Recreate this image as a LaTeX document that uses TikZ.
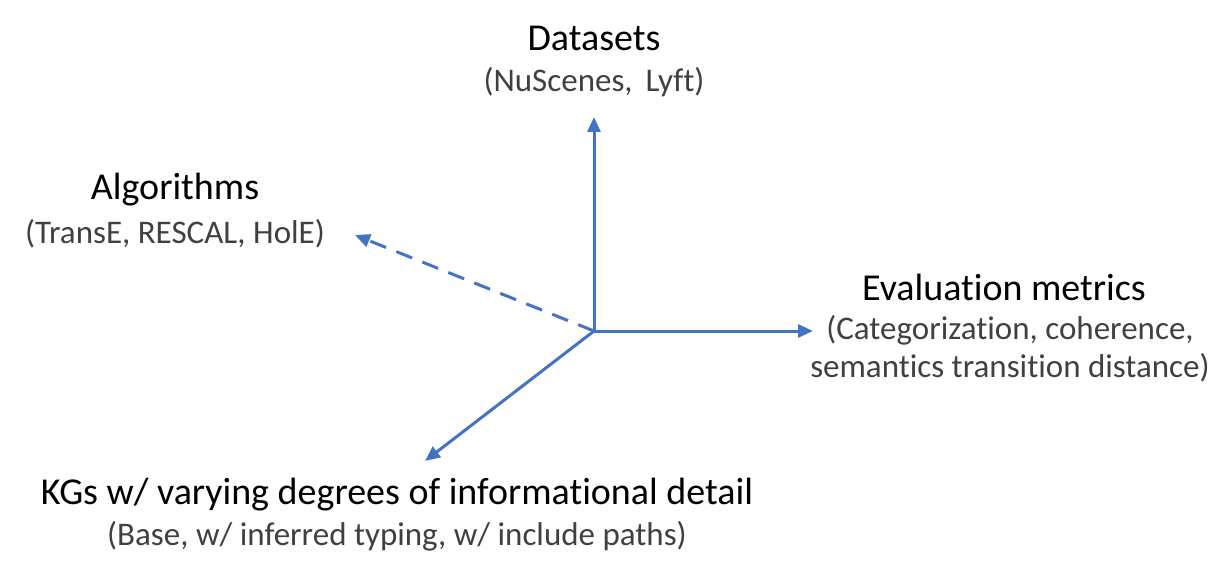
\documentclass[tikz,border=0pt]{standalone}
\usepackage{fontspec}
\setmainfont[Ligatures=NoCommon]{Carlito}
\usetikzlibrary{arrows.meta}
\definecolor{axisblue}{HTML}{4472C4}
\definecolor{subgray}{HTML}{404040}
\begin{document}
\begin{tikzpicture}[x=1pt,y=-1pt,
  axis/.style={draw=axisblue,line width=3pt,-{Triangle[length=15pt,width=13pt]}},
  title/.style={font=\fontsize{38}{44}\selectfont,text=black,inner sep=0pt},
  sub/.style={font=\fontsize{33}{38}\selectfont,text=subgray,inner sep=0pt,align=center}]
\useasboundingbox (0,0) rectangle (1227,572);
\coordinate (o) at (594,331);
\coordinate (up) at (594,117);
\coordinate (right) at (813,331);
\coordinate (dl) at (425,461);
\coordinate (ul) at (355,235);
\draw[axis] (o) -- (up);
\draw[axis] (o) -- (right);
\draw[axis] (o) -- (dl);
\draw[axis,dash pattern=on 17pt off 11pt] (o) -- (ul);
\node[title] (dsT) at (594,38) {Datasets};
\node[sub] (dsS) at (594,82) {(NuScenes,\, Lyft)};
\node[title] (alT) at (175,190) {Algorithms};
\node[sub] (alS) at (175,234) {(TransE, RESCAL, HolE)};
\node[title] (evT) at (1004,287) {Evaluation metrics};
\node[sub] (evS) at (1010,349) {(Categorization, coherence,\\semantics transition distance)};
\node[title] (kgT) at (397,495) {KGs w/ varying degrees of informational detail};
\node[sub] (kgS) at (397,536) {(Base, w/ inferred typing, w/ include paths)};
\end{tikzpicture}
\end{document}
